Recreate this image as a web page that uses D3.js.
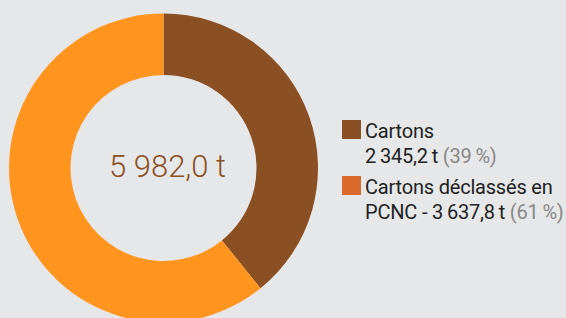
<!DOCTYPE html>
<html>
<head>
<meta charset="utf-8">
<script src="https://cdn.jsdelivr.net/npm/d3@7"></script>
<style>
  html, body { margin: 0; padding: 0; background: #e5e7e9; }
  svg { display: block; font-family: Roboto, "Noto Sans", sans-serif; }
</style>
</head>
<body>
<script>
// Data
var categories = ["Cartons", "Cartons déclassés en PCNC"];
var values = [2345.2, 3637.8];
var sliceColors = ["#8b4f24", "#ff951f"];
var legendColors = ["#8b4f26", "#d9692b"];
var totalLabel = "5 982,0 t";
var valueLabels = ["2\u2009345,2\u2009t", "3\u2009637,8\u2009t"];
var pctLabels = [" (39\u2009%)", " (61\u2009%)"];

var width = 566, height = 318;
var cx = 163.5, cy = 168, outerR = 154.5, innerR = 93;

var svg = d3.select("body").append("svg")
    .attr("width", width)
    .attr("height", height);

var pie = d3.pie().sort(null).value(d => d);
var arc = d3.arc().innerRadius(innerR).outerRadius(outerR);

var g = svg.append("g").attr("transform", "translate(" + cx + "," + cy + ")");

g.selectAll("path")
    .data(pie(values))
    .enter().append("path")
    .attr("d", arc)
    .attr("fill", (d, i) => sliceColors[i]);

// Total in the middle
g.append("text")
    .attr("x", 4)
    .attr("y", 9)
    .attr("text-anchor", "middle")
    .attr("font-size", 31)
    .attr("font-weight", 300)
    .attr("fill", "#8b4f24")
    .text(totalLabel);

// Legend
var legend = [
    { color: legendColors[0], y: 120, lines: [[categories[0], null], [valueLabels[0], pctLabels[0]]] },
    { color: legendColors[1], y: 176, lines: [["Cartons déclassés en", null], ["PCNC - " + valueLabels[1], pctLabels[1]]] }
];

var lg = svg.append("g");
legend.forEach(function (item) {
    lg.append("rect")
        .attr("x", 342)
        .attr("y", item.y)
        .attr("width", 19)
        .attr("height", 19)
        .attr("fill", item.color);
    item.lines.forEach(function (line, j) {
        var t = lg.append("text")
            .attr("x", 365)
            .attr("y", item.y + 18 + j * 25)
            .attr("font-size", 20)
            .attr("letter-spacing", -0.2)
            .attr("fill", "#222");
        t.append("tspan").text(line[0]);
        if (line[1]) t.append("tspan").attr("fill", "#888").text(line[1]);
    });
});
</script>
</body>
</html>
